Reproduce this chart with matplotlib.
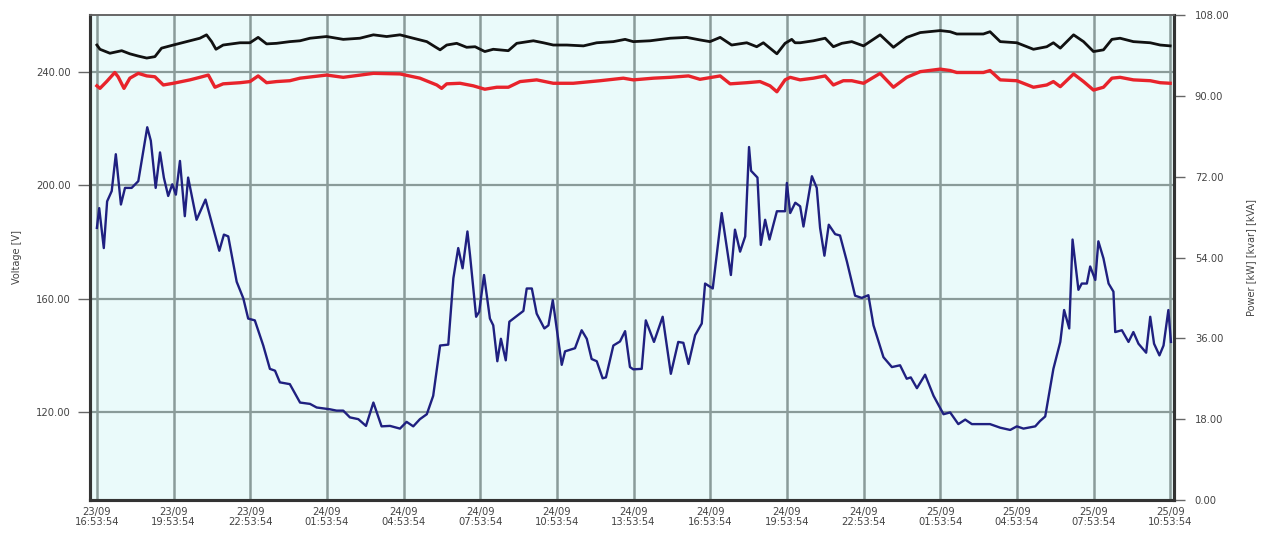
import matplotlib
matplotlib.use("Agg")
import matplotlib.pyplot as plt
import numpy as np

# ---- data (time in hours after 23/09 16:53:54) ----
tick_labels = ["23/09\n16:53:54", "23/09\n19:53:54", "23/09\n22:53:54", "24/09\n01:53:54",
               "24/09\n04:53:54", "24/09\n07:53:54", "24/09\n10:53:54", "24/09\n13:53:54",
               "24/09\n16:53:54", "24/09\n19:53:54", "24/09\n22:53:54", "25/09\n01:53:54",
               "25/09\n04:53:54", "25/09\n07:53:54", "25/09\n10:53:54"]
tick_hours = [0, 3, 6, 9, 12, 15, 18, 21, 24, 27, 30, 33, 36, 39, 42]

black_t = [0.0, 0.12, 0.51, 0.97, 1.29, 1.62, 1.95, 2.27, 2.53, 2.99, 3.51, 4.03, 4.29, 4.49, 4.66,
           4.94, 5.60, 5.99, 6.31, 6.64, 7.03, 7.55, 7.95, 8.34, 8.99, 9.64, 10.29, 10.82, 11.34,
           11.86, 12.38, 12.91, 13.23, 13.43, 13.69, 14.08, 14.47, 14.80, 15.18, 15.51, 16.10,
           16.43, 17.08, 17.47, 17.86, 18.39, 19.04, 19.56, 20.21, 20.67, 20.99, 21.65, 22.43,
           23.08, 23.60, 23.99, 24.39, 24.84, 25.43, 25.82, 26.08, 26.61, 26.93, 27.19, 27.32,
           27.52, 28.04, 28.50, 28.82, 29.15, 29.54, 30.00, 30.65, 31.17, 31.69, 32.22, 33.00,
           33.39, 33.65, 34.69, 34.95, 35.35, 36.00, 36.65, 37.17, 37.43, 37.70, 38.22, 38.61,
           39.00, 39.39, 39.72, 40.04, 40.56, 41.22, 41.61, 42.00]
black_v = [249.5, 248.0, 246.6, 247.5, 246.4, 245.6, 244.9, 245.4, 248.4, 249.5, 250.7, 251.9, 253.1,
           250.7, 248.0, 249.5, 250.3, 250.3, 252.2, 249.9, 250.1, 250.7, 251.0, 251.9, 252.5,
           251.5, 251.9, 253.1, 252.5, 253.1, 251.9, 250.7, 248.9, 247.8, 249.5, 250.1, 248.7,
           248.9, 247.2, 248.0, 247.5, 250.1, 251.0, 250.3, 249.5, 249.5, 249.2, 250.3, 250.7,
           251.5, 250.7, 251.0, 251.9, 252.2, 251.3, 250.7, 252.2, 249.5, 250.3, 248.9, 250.3,
           246.4, 250.1, 251.5, 250.3, 250.3, 251.0, 251.9, 248.9, 250.1, 250.7, 249.2, 253.1,
           248.7, 252.2, 253.9, 254.6, 254.2, 253.4, 253.4, 254.2, 250.7, 250.3, 248.0, 248.9,
           250.3, 248.4, 253.1, 250.7, 247.2, 247.8, 251.5, 251.9, 250.7, 250.3, 249.5, 249.2]

red_t = [0.0, 0.12, 0.38, 0.70, 0.83, 1.06, 1.29, 1.62, 1.95, 2.27, 2.60, 2.99, 3.64, 4.03, 4.36,
         4.62, 4.94, 5.60, 5.99, 6.31, 6.64, 7.03, 7.55, 7.95, 8.99, 9.64, 10.82, 11.86, 12.64,
         13.30, 13.49, 13.69, 14.21, 14.73, 15.18, 15.65, 16.10, 16.56, 17.21, 17.86, 18.64,
         19.69, 20.60, 20.99, 21.78, 22.43, 23.15, 23.60, 24.39, 24.78, 25.43, 25.95, 26.34,
         26.61, 26.93, 27.13, 27.52, 28.04, 28.50, 28.82, 29.21, 29.54, 30.00, 30.65, 31.17,
         31.69, 32.22, 33.00, 33.39, 33.65, 34.69, 34.95, 35.35, 36.00, 36.65, 37.17, 37.43,
         37.70, 38.22, 38.61, 39.00, 39.39, 39.72, 40.04, 40.56, 41.22, 41.61, 42.00]
red_v = [235.1, 234.2, 236.6, 239.8, 238.3, 234.2, 237.8, 239.5, 238.6, 238.3, 235.4, 236.0, 237.2,
         238.1, 238.9, 234.6, 235.8, 236.2, 236.6, 238.6, 236.2, 236.6, 236.9, 237.8, 238.9,
         238.1, 239.5, 239.3, 237.8, 235.4, 234.2, 235.8, 236.0, 235.1, 233.9, 234.6, 234.6,
         236.6, 237.2, 236.0, 236.0, 236.9, 237.8, 237.2, 237.8, 238.1, 238.6, 237.4, 238.6,
         235.8, 236.2, 236.6, 235.1, 233.0, 237.2, 238.1, 237.2, 237.8, 238.6, 235.4, 236.9,
         236.9, 236.0, 239.5, 234.6, 238.1, 240.1, 241.0, 240.5, 239.8, 239.8, 240.5, 237.2,
         236.9, 234.6, 235.4, 236.6, 234.8, 239.3, 236.6, 233.6, 234.6, 237.8, 238.1, 237.2,
         236.9, 236.2, 236.0]

blue_t = [0.0, 0.09, 0.27, 0.40, 0.58, 0.74, 0.94, 1.10, 1.36, 1.62, 1.97, 2.11, 2.30, 2.47, 2.62,
          2.79, 2.95, 3.09, 3.25, 3.44, 3.57, 3.90, 4.25, 4.79, 4.97, 5.14, 5.47, 5.73, 5.92,
          6.18, 6.51, 6.77, 6.97, 7.16, 7.55, 7.95, 8.34, 8.60, 9.12, 9.38, 9.64, 9.90, 10.23,
          10.53, 10.82, 11.14, 11.47, 11.86, 12.12, 12.38, 12.64, 12.91, 13.16, 13.43, 13.75,
          13.95, 14.14, 14.31, 14.50, 14.60, 14.84, 14.96, 15.15, 15.38, 15.51, 15.67, 15.81,
          16.00, 16.14, 16.69, 16.82, 17.02, 17.21, 17.51, 17.67, 17.84, 18.19, 18.32, 18.71,
          18.97, 19.17, 19.36, 19.56, 19.79, 19.92, 20.21, 20.47, 20.67, 20.86, 20.99, 21.32,
          21.48, 21.80, 22.14, 22.46, 22.75, 22.95, 23.15, 23.41, 23.67, 23.80, 24.10, 24.45,
          24.81, 24.97, 25.17, 25.37, 25.52, 25.60, 25.85, 25.98, 26.15, 26.32, 26.61, 26.93,
          27.00, 27.13, 27.33, 27.52, 27.65, 27.98, 28.17, 28.30, 28.47, 28.64, 28.89, 29.08,
          29.35, 29.67, 29.93, 30.19, 30.39, 30.78, 31.11, 31.43, 31.69, 31.85, 32.09, 32.41,
          32.74, 33.13, 33.39, 33.71, 33.98, 34.24, 34.95, 35.35, 35.74, 36.00, 36.26, 36.72,
          36.91, 37.11, 37.43, 37.70, 37.85, 38.05, 38.18, 38.28, 38.41, 38.54, 38.74, 38.87,
          39.07, 39.19, 39.39, 39.59, 39.78, 39.85, 40.11, 40.37, 40.56, 40.76, 41.06, 41.22,
          41.37, 41.58, 41.74, 41.93, 42.03]
blue_p = [60.6, 65.0, 56.1, 66.5, 68.8, 77.0, 65.8, 69.5, 69.5, 71.0, 83.0, 80.0, 69.5, 77.4, 71.8,
          67.7, 70.3, 68.0, 75.5, 63.2, 71.8, 62.4, 66.9, 55.5, 59.1, 58.7, 48.6, 44.9, 40.4,
          40.0, 34.4, 29.2, 28.8, 26.2, 25.8, 21.7, 21.4, 20.6, 20.2, 19.9, 19.9, 18.4, 18.0,
          16.5, 21.7, 16.4, 16.5, 15.9, 17.4, 16.4, 18.0, 19.1, 23.2, 34.4, 34.6,
          49.4, 56.1, 51.6, 59.8, 54.6, 40.8, 41.9, 50.1, 40.4, 38.9, 30.9, 35.9,
          31.1, 39.7, 42.1, 47.1, 47.1, 41.5, 38.2, 38.9, 44.5, 30.1, 33.1, 33.8,
          37.8, 35.9, 31.4, 30.9, 27.1, 27.3, 34.4, 35.3, 37.6, 29.6, 29.1, 29.2,
          40.0, 35.2, 40.8, 28.1, 35.2, 35.0, 30.3, 36.7, 39.3, 48.2, 47.1, 63.9,
          50.1, 60.2, 55.3, 58.7, 78.6, 73.3, 71.8, 56.8, 62.4, 58.0, 64.3, 64.3,
          70.6, 63.9, 66.2, 65.4, 60.9, 72.1, 69.5, 60.6, 54.4, 61.3, 59.2, 58.9,
          53.1, 45.5, 45.0, 45.6, 38.9, 31.8, 29.6, 30.0, 27.0, 27.3, 24.9, 27.9,
          23.2, 19.1, 19.5, 16.9, 17.9, 16.9, 16.9, 16.1, 15.6, 16.4, 15.9, 16.4,
          17.6, 18.6, 29.2, 35.2, 42.3, 38.2, 58.0, 53.1, 46.8, 48.2, 48.2, 52.0,
          49.0, 57.6, 53.8, 48.2, 46.4, 37.4, 37.8, 35.2, 37.4, 34.8, 32.8, 40.8,
          34.8, 32.2, 34.4, 42.3, 35.2]

volt_ticks = [120, 160, 200, 240]
power_ticks = [0, 18, 36, 54, 72, 90, 108]

# ---- figure ----
fig = plt.figure(figsize=(12.69, 5.34), dpi=100)
ax = fig.add_axes([90 / 1269, 1 - 500 / 534, (1174 - 90) / 1269, (500 - 15) / 534])
ax.set_facecolor("#eafafa")
ax.set_xlim(-0.27, 42.15)
ax.set_ylim(88.9, 260.1)

grid_c = "#8a9b99"
for t in tick_hours:
    ax.axvline(t, color=grid_c, lw=1.8, zorder=1)
for v in volt_ticks:
    ax.axhline(v, color=grid_c, lw=1.6, zorder=1)

ax.plot(black_t, black_v, color="#111111", lw=2.0, zorder=3)
ax.plot(red_t, red_v, color="#e8232b", lw=2.4, zorder=3)

ax2 = ax.twinx()
ax2.set_ylim(0, 108)
ax2.plot(blue_t, blue_p, color="#1f2080", lw=1.7, zorder=3)

ax.set_xticks(tick_hours)
ax.set_xticklabels(tick_labels, fontsize=7.2, color="#444444", linespacing=1.0)
ax.set_yticks(volt_ticks)
ax.set_yticklabels([f"{v:.2f}" for v in volt_ticks], fontsize=7.2, color="#444444")
ax2.set_yticks(power_ticks)
ax2.set_yticklabels([f"{v:.2f}" for v in power_ticks], fontsize=7.2, color="#444444")

ax.tick_params(axis="x", length=0, pad=5)
ax.tick_params(axis="y", length=9, width=1, color="#666666", pad=5)
ax2.tick_params(axis="y", length=8, width=1, color="#666666", pad=7)

for a in (ax, ax2):
    for side in ("left", "bottom", "right"):
        a.spines[side].set_color("#333333")
        a.spines[side].set_linewidth(2.2)
    a.spines["top"].set_color("#666666")
    a.spines["top"].set_linewidth(1.2)

ax.set_ylabel("Voltage [V]", fontsize=7, color="#444444", labelpad=10)
ax2.set_ylabel("Power [kW] [kvar] [kVA]", fontsize=7, color="#444444", labelpad=12)

fig.savefig("out.png", dpi=100, facecolor="white")
